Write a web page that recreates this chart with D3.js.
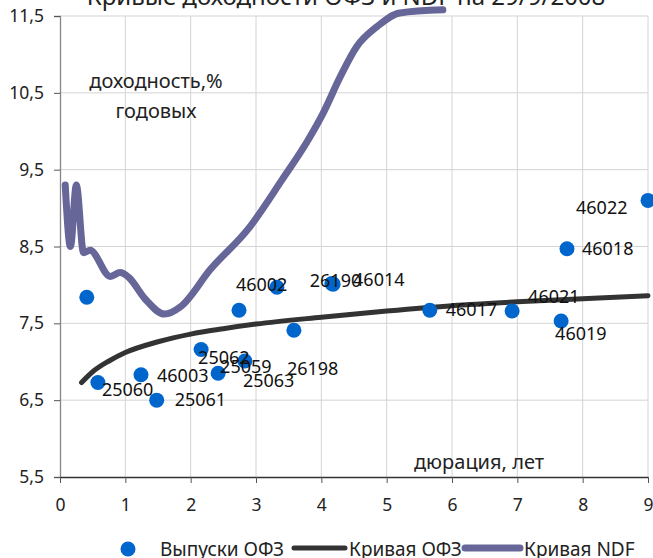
<!DOCTYPE html>
<html>
<head>
<meta charset="utf-8">
<script src="https://cdn.jsdelivr.net/npm/d3@7"></script>
<style>
  body { margin: 0; background: #fff; }
  svg { display: block; font-family: "Noto Sans", sans-serif; }
</style>
</head>
<body>
<div id="chart"></div>
<script>
// data
const bondNames = ["", "25060", "46003", "25061", "25062", "25059", "25063", "", "46002", "26190", "46014", "26198", "46017", "46021", "46019", "46018", "46022"];
const bondDuration = [0.41, 0.58, 1.24, 1.48, 2.16, 2.42, 2.83, 2.74, 3.32, 4.16, 4.18, 3.58, 5.66, 6.92, 7.67, 7.76, 9.0];
const bondYield = [7.84, 6.73, 6.83, 6.50, 7.16, 6.85, 7.01, 7.67, 7.97, 8.02, 8.01, 7.41, 7.67, 7.66, 7.53, 8.47, 9.10];

const ofzCurveX = [0.33, 0.5, 0.75, 1, 1.5, 2, 2.5, 3, 4, 5, 6, 7, 8, 9];
const ofzCurveY = [6.73, 6.87, 7.01, 7.12, 7.26, 7.36, 7.43, 7.49, 7.58, 7.66, 7.73, 7.78, 7.82, 7.86];

const ndfCurveX = [0.08, 0.16, 0.25, 0.36, 0.46, 0.77, 0.92, 1.05, 1.3, 1.6, 1.85, 2.3, 2.9, 3.4, 3.8, 4.03, 4.29, 4.54, 4.85, 5.2, 5.86];
const ndfCurveY = [9.3, 8.5, 9.3, 8.42, 8.45, 8.11, 8.16, 8.1, 7.82, 7.62, 7.72, 8.2, 8.75, 9.37, 9.89, 10.24, 10.71, 11.1, 11.36, 11.54, 11.58];

const xTicks = [0, 1, 2, 3, 4, 5, 6, 7, 8, 9];
const yTicks = [5.5, 6.5, 7.5, 8.5, 9.5, 10.5, 11.5];
const yTickLabels = ["5,5", "6,5", "7,5", "8,5", "9,5", "10,5", "11,5"];

const titleText = "Кривые доходности ОФЗ и NDF на 29/9/2008";
const legendNames = ["Выпуски ОФЗ", "Кривая ОФЗ", "Кривая NDF"];

// label offsets from the dot (layout only)
const labelOffset = {
    "25060": [4, 7], "46003": [16, 1], "25061": [18, 0], "25062": [-3, 8],
    "25059": [2, -7], "25063": [-2, 20], "46002": [-41, -3], "26190": [-22, -3],
    "46014": [20, -4], "26198": [-7, 38], "46017": [16, -1], "46021": [16, -14],
    "46019": [-6, 13], "46018": [15, 0], "46022": [-72, 7]
};

// colours
const dotColor = "#0066cc";
const ofzColor = "#333333";
const ndfColor = "#666699";

// canvas
const W = 653, H = 558;
const svg = d3.select("#chart").append("svg")
    .attr("width", W)
    .attr("height", H);

const xScale = d3.scaleLinear().domain([0, 9]).range([60, 648]);
const yScale = d3.scaleLinear().domain([5.5, 11.5]).range([477, 16]);

// title (cut at top like the picture)
svg.append("text")
    .attr("x", 346)
    .attr("y", 5)
    .attr("text-anchor", "middle")
    .style("font-size", "24px")
    .attr("fill", "#222")
    .text(titleText);

// gridlines
svg.append("g")
    .selectAll("line")
    .data(yTicks.slice(1))
    .enter()
    .append("line")
    .attr("x1", xScale(0)).attr("x2", xScale(9))
    .attr("y1", d => yScale(d)).attr("y2", d => yScale(d))
    .attr("stroke", "#d4d4d4");

svg.append("g")
    .selectAll("line")
    .data(xTicks.slice(1))
    .enter()
    .append("line")
    .attr("x1", d => xScale(d)).attr("x2", d => xScale(d))
    .attr("y1", yScale(5.5)).attr("y2", yScale(11.5))
    .attr("stroke", "#d4d4d4");

// axes
const yAxis = svg.append("g")
    .attr("transform", "translate(" + xScale(0) + ",0)")
    .call(d3.axisLeft(yScale)
        .tickValues(yTicks)
        .tickSize(6)
        .tickPadding(10)
        .tickFormat((d, i) => yTickLabels[i]));
yAxis.select(".domain").attr("stroke", "#868686").attr("stroke-width", 1.3);
yAxis.selectAll(".tick line").attr("stroke", "#555");
yAxis.selectAll("text")
    .style("font-size", "17.5px")
    .style("font-family", "Noto Sans")
    .attr("fill", "#222");

const xAxis = svg.append("g")
    .attr("transform", "translate(0," + yScale(5.5) + ")")
    .call(d3.axisBottom(xScale)
        .tickValues(xTicks)
        .tickSize(6)
        .tickSizeOuter(0)
        .tickPadding(16));
xAxis.select(".domain").attr("stroke", "#333").attr("stroke-width", 1.3);
xAxis.selectAll(".tick line").attr("stroke", "#555");
xAxis.selectAll("text")
    .style("font-size", "17.5px")
    .style("font-family", "Noto Sans")
    .attr("fill", "#222");

// axis titles
svg.append("text")
    .attr("x", 156).attr("y", 88)
    .attr("text-anchor", "middle")
    .style("font-size", "20px")
    .attr("fill", "#222")
    .text("доходность,%");
svg.append("text")
    .attr("x", 156).attr("y", 118)
    .attr("text-anchor", "middle")
    .style("font-size", "20px")
    .attr("fill", "#222")
    .text("годовых");
svg.append("text")
    .attr("x", 479).attr("y", 469)
    .attr("text-anchor", "middle")
    .style("font-size", "20px")
    .attr("fill", "#222")
    .text("дюрация, лет");

// curves
const line = d3.line()
    .x(d => xScale(d[0]))
    .y(d => yScale(d[1]))
    .curve(d3.curveMonotoneX);

svg.append("path")
    .datum(ndfCurveX.map((x, i) => [x, ndfCurveY[i]]))
    .attr("d", line)
    .attr("fill", "none")
    .attr("stroke", ndfColor)
    .attr("stroke-width", 7)
    .attr("stroke-linejoin", "round")
    .attr("stroke-linecap", "round");

svg.append("path")
    .datum(ofzCurveX.map((x, i) => [x, ofzCurveY[i]]))
    .attr("d", line)
    .attr("fill", "none")
    .attr("stroke", ofzColor)
    .attr("stroke-width", 5)
    .attr("stroke-linecap", "round");

// bonds
const bonds = bondNames.map((n, i) => ({ name: n, x: bondDuration[i], y: bondYield[i] }));

svg.append("g")
    .selectAll("circle")
    .data(bonds)
    .enter()
    .append("circle")
    .attr("cx", d => xScale(d.x))
    .attr("cy", d => yScale(d.y))
    .attr("r", 7.5)
    .attr("fill", dotColor);

svg.append("g")
    .selectAll("text")
    .data(bonds.filter(d => d.name !== ""))
    .enter()
    .append("text")
    .attr("x", d => xScale(d.x) + labelOffset[d.name][0])
    .attr("y", d => yScale(d.y) + labelOffset[d.name][1])
    .attr("dy", "0.35em")
    .style("font-size", "18px")
    .attr("fill", "#111")
    .text(d => d.name);

// legend
const lg = svg.append("g");
lg.append("circle").attr("cx", 128).attr("cy", 549).attr("r", 7.5).attr("fill", dotColor);
lg.append("text").attr("x", 160).attr("y", 556).style("font-size", "19px").attr("fill", "#222").text(legendNames[0]);
lg.append("line").attr("x1", 294).attr("x2", 345).attr("y1", 548).attr("y2", 548)
    .attr("stroke", ofzColor).attr("stroke-width", 5).attr("stroke-linecap", "round");
lg.append("text").attr("x", 349).attr("y", 556).style("font-size", "19px").attr("fill", "#222").text(legendNames[1]);
lg.append("line").attr("x1", 465).attr("x2", 520).attr("y1", 548).attr("y2", 548)
    .attr("stroke", ndfColor).attr("stroke-width", 7).attr("stroke-linecap", "round");
lg.append("text").attr("x", 524).attr("y", 556).style("font-size", "19px").attr("fill", "#222").text(legendNames[2]);
</script>
</body>
</html>
